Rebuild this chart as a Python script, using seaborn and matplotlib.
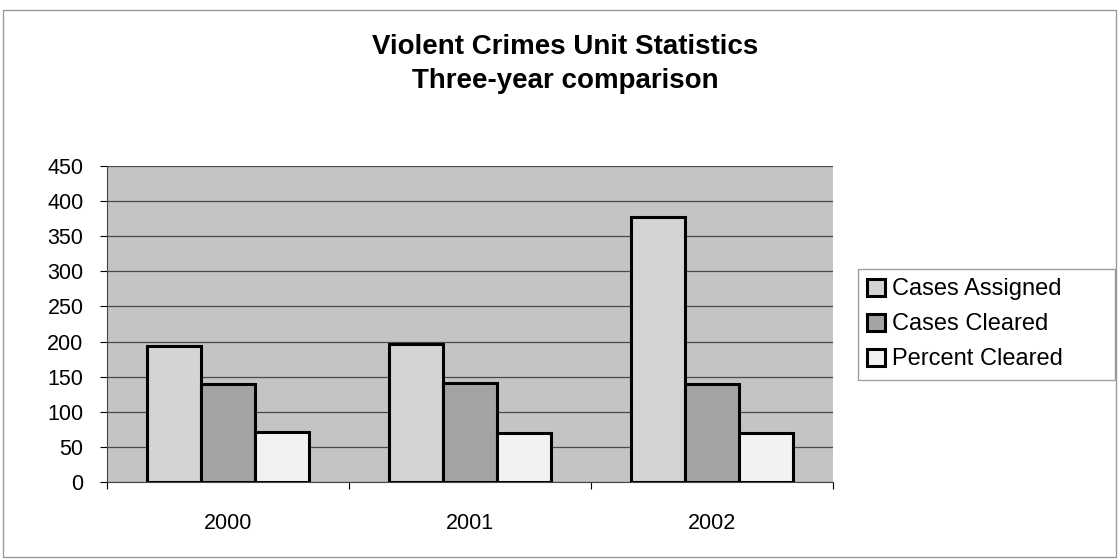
import pandas as pd
import seaborn as sns
import matplotlib.pyplot as plt
from matplotlib.patches import Rectangle

years = ["2000", "2001", "2002"]
series = ["Cases Assigned", "Cases Cleared", "Percent Cleared"]
cases_assigned = [194, 196, 378]
cases_cleared = [139, 141, 139]
percent_cleared = [71, 70, 70]
colors = ["#d4d4d4", "#a4a4a4", "#f2f2f2"]

# long table for seaborn
rows = []
for name, vals in zip(series, [cases_assigned, cases_cleared, percent_cleared]):
    for yr, v in zip(years, vals):
        rows.append({"year": yr, "series": name, "value": v})
df = pd.DataFrame(rows)

sns.set_style("white")
plt.rcParams["font.family"] = ["Liberation Sans", "DejaVu Sans"]
plt.rcParams["text.color"] = "black"
plt.rcParams["xtick.color"] = "black"
plt.rcParams["ytick.color"] = "black"

fig = plt.figure(figsize=(11.2, 5.6), dpi=100)
# thin chart-area frame
fig.patches.append(Rectangle((3 / 1120, 3 / 560), 1113 / 1120, 547 / 560, transform=fig.transFigure,
                             fill=False, edgecolor="#9a9a9a", linewidth=1))
ax = fig.add_axes([107 / 1120, 78 / 560, 726 / 1120, 316 / 560])
ax.set_facecolor("#c4c4c4")

sns.barplot(data=df, x="year", y="value", hue="series", palette=colors,
            width=0.67, edgecolor="black", linewidth=2.2, ax=ax, gap=0,
            saturation=1)

ax.set_ylim(0, 450)
ax.set_xlim(-0.5, 2.5)
ax.set_yticks(range(0, 451, 50))
ax.yaxis.grid(True, color="#4a4a4a", linewidth=0.9)
ax.set_axisbelow(True)
ax.tick_params(axis="y", labelsize=15.5, length=5, width=0.8, direction="out", left=True, pad=12)
# year labels in the middle, tick marks between groups
ax.set_xticks([-0.5, 0.5, 1.5, 2.5])
ax.set_xticklabels([])
ax.tick_params(axis="x", which="major", length=5, width=0.8, direction="out", bottom=True)
ax.set_xticks([0, 1, 2], minor=True)
ax.set_xticklabels(years, minor=True, fontsize=15.5)
ax.tick_params(axis="x", which="minor", length=0, pad=22)
ax.set_xlabel("")
ax.set_ylabel("")
for s in ["top", "right"]:
    ax.spines[s].set_visible(False)
for s in ["left", "bottom"]:
    ax.spines[s].set_color("#444444")
    ax.spines[s].set_linewidth(0.8)

handles, labels = ax.get_legend_handles_labels()
ax.get_legend().remove()
leg = fig.legend(handles, labels, loc="upper left",
                 bbox_to_anchor=(858 / 1120, 1 - 385 / 560, 257 / 1120, 116 / 560),
                 mode="expand", fontsize=17, frameon=True, fancybox=False,
                 edgecolor="#888888", handlelength=0.75, handleheight=0.75, handletextpad=0.3,
                 labelspacing=0.55, borderpad=0.4, borderaxespad=0)

fig.text(565 / 1120, 1 - 47 / 560, "Violent Crimes Unit Statistics", ha="center", va="center",
         fontsize=20, fontweight="bold")
fig.text(565 / 1120, 1 - 81 / 560, "Three-year comparison", ha="center", va="center",
         fontsize=20, fontweight="bold")

fig.savefig("out.png", dpi=100)
